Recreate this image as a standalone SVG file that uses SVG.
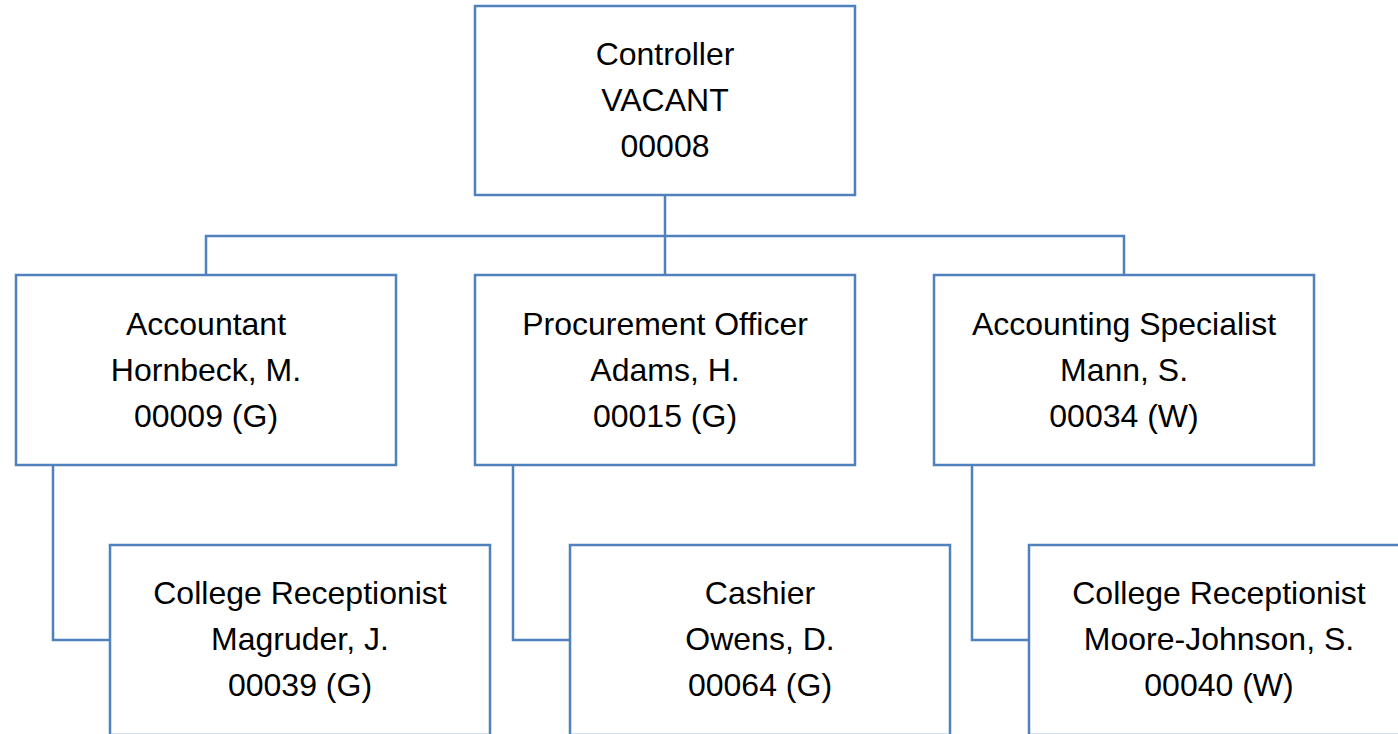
<svg xmlns="http://www.w3.org/2000/svg" width="1398" height="734" viewBox="0 0 1398 734">
<style>
.box{fill:#fff;stroke:#4f81bd;stroke-width:2.5}
.con{fill:none;stroke:#4f81bd;stroke-width:2.5}
text{font-family:"Liberation Sans",Arial,sans-serif;font-size:32px;fill:#000;text-anchor:middle}
</style>
<rect width="1398" height="734" fill="#fff"/>
<g id="connectors">
<path class="con" d="M665 195V275M206 275V236H1124V275"/>
<path class="con" d="M53 465V640H110"/>
<path class="con" d="M513 465V640H570"/>
<path class="con" d="M972 465V640H1029"/>
</g>
<g id="n-controller"><rect class="box" x="475" y="6" width="380" height="189"/>
<text x="665" y="65">Controller</text><text x="665" y="111">VACANT</text><text x="665" y="157">00008</text></g>
<g id="n-accountant"><rect class="box" x="16" y="275" width="380" height="190"/>
<text x="206" y="335">Accountant</text><text x="206" y="381">Hornbeck, M.</text><text x="206" y="427">00009 (G)</text></g>
<g id="n-procurement"><rect class="box" x="475" y="275" width="380" height="190"/>
<text x="665" y="335">Procurement Officer</text><text x="665" y="381">Adams, H.</text><text x="665" y="427">00015 (G)</text></g>
<g id="n-specialist"><rect class="box" x="934" y="275" width="380" height="190"/>
<text x="1124" y="335">Accounting Specialist</text><text x="1124" y="381">Mann, S.</text><text x="1124" y="427">00034 (W)</text></g>
<g id="n-receptionist1"><rect class="box" x="110" y="545" width="380" height="190"/>
<text x="300" y="604">College Receptionist</text><text x="300" y="650">Magruder, J.</text><text x="300" y="696">00039 (G)</text></g>
<g id="n-cashier"><rect class="box" x="570" y="545" width="380" height="190"/>
<text x="760" y="604">Cashier</text><text x="760" y="650">Owens, D.</text><text x="760" y="696">00064 (G)</text></g>
<g id="n-receptionist2"><rect class="box" x="1029" y="545" width="380" height="190"/>
<text x="1219" y="604">College Receptionist</text><text x="1219" y="650">Moore-Johnson, S.</text><text x="1219" y="696">00040 (W)</text></g>
</svg>
